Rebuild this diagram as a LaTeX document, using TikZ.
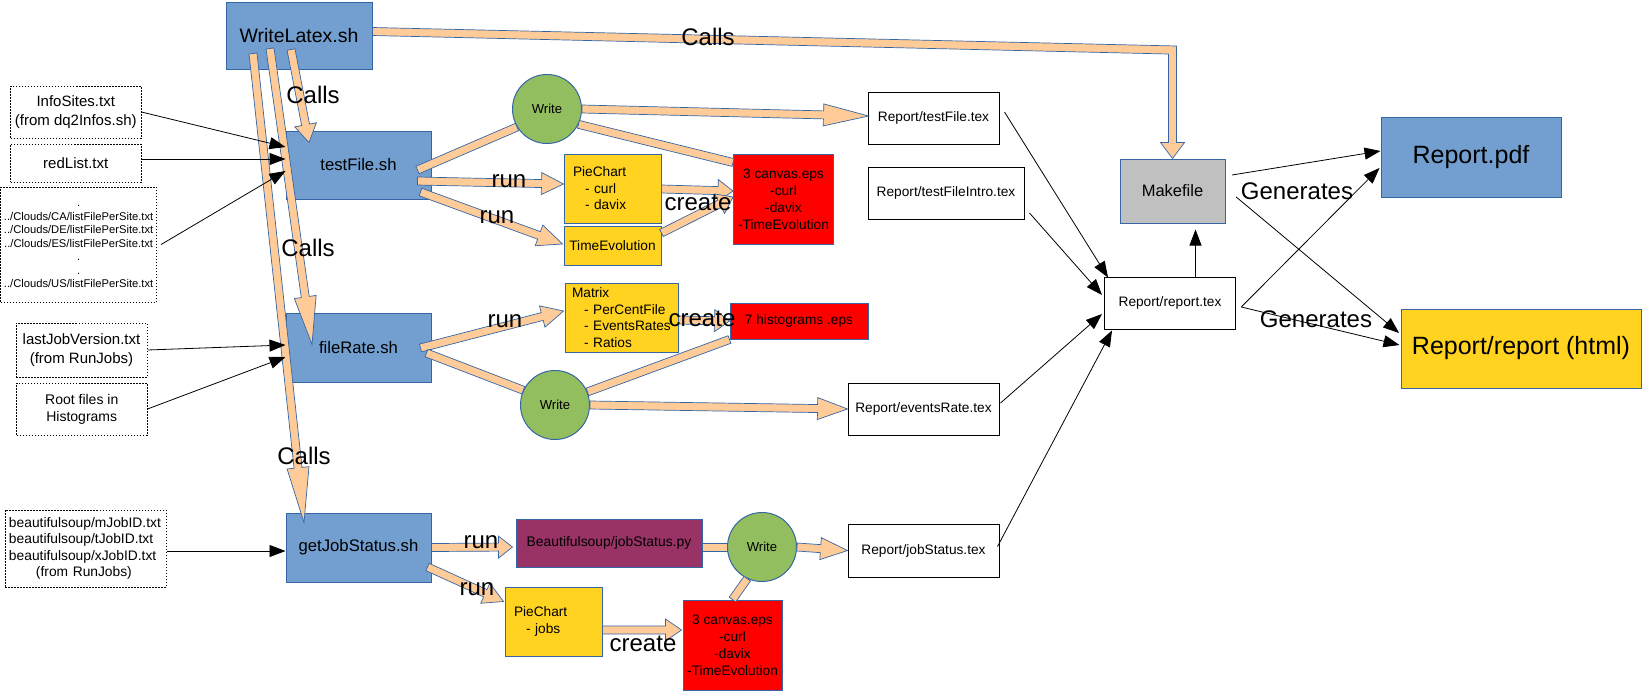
\documentclass[tikz,border=0pt]{standalone}
\usepackage{fontspec}
\setmainfont{Liberation Sans}
\usetikzlibrary{calc,arrows.meta,positioning}

\definecolor{shblue}{HTML}{729FCF}
\definecolor{shedge}{HTML}{3465A4}
\definecolor{callfill}{HTML}{FFCC99}
\definecolor{writegreen}{RGB}{147,190,95}
\definecolor{plotyellow}{HTML}{FFD320}
\definecolor{pyviolet}{HTML}{993366}
\definecolor{makegrey}{HTML}{C0C0C0}

\newcommand\blockarrow[3][20]{%
  \coordinate (fas) at #2; \coordinate (fae) at #3;
  \coordinate (fah) at ($(fae)!#1pt!(fas)$);
  \filldraw [blockarrow] ($(fas)!4pt!90:(fae)$) -- ($(fah)!4pt!90:(fae)$) -- ($(fah)!11pt!90:(fae)$) -- (fae)
    -- ($(fah)!11pt!-90:(fae)$) -- ($(fah)!4pt!-90:(fae)$) -- ($(fas)!4pt!-90:(fae)$) -- cycle;}
\newcommand\blockline[2]{%
  \coordinate (fas) at #1; \coordinate (fae) at #2;
  \filldraw [blockarrow] ($(fas)!4pt!90:(fae)$) -- ($(fae)!4pt!-90:(fas)$) -- ($(fae)!4pt!90:(fas)$) -- ($(fas)!4pt!-90:(fae)$) -- cycle;}

\begin{document}
\begin{tikzpicture}[x=1pt, y=-1pt,
  script/.style={rectangle, draw=shedge, fill=shblue, line width=1pt, inner sep=0pt, font=\fontsize{16.7}{20}\selectfont},
  infile/.style={rectangle, draw, line width=1pt, dash pattern=on 1.5pt off 1.5pt, inner sep=0pt, align=center, font=\fontsize{15}{18.5}\selectfont},
  texout/.style={rectangle, draw, line width=1pt, inner sep=0pt, font=\fontsize{13.7}{16.5}\selectfont},
  plotbox/.style={rectangle, draw=shedge, fill=plotyellow, line width=1pt, inner ysep=0pt, align=left, font=\fontsize{13.7}{16.5}\selectfont},
  epsbox/.style={rectangle, draw=shedge, fill=red, line width=1pt, inner sep=0pt, align=center, font=\fontsize{13.7}{17}\selectfont},
  writer/.style={circle, draw=shedge, fill=writegreen, line width=1pt, inner sep=0pt, minimum size=69pt, font=\fontsize{13.1}{16}\selectfont},
  blockarrow/.style={fill=callfill, draw=shedge, line width=0.7pt, line join=miter},
  feed/.style={draw, line width=0.8pt, -{Triangle[length=16pt, width=12pt]}},
  tag/.style={inner sep=0pt, font=\fontsize{24}{28}\selectfont}]
  \fill [white] (0,0) rectangle (1642,691);
  \useasboundingbox (0,0) rectangle (1642,691);

  \node (wl) [script, minimum width=146pt, minimum height=67pt, font=\fontsize{19.5}{23}\selectfont] at (299,35.5) {WriteLatex.sh};
  \node (info) [infile, minimum width=130.5pt, minimum height=52pt] at (75.75,112) {InfoSites.txt\\(from dq2Infos.sh)};
  \node (red) [infile, minimum width=130.5pt, minimum height=38pt] at (75.75,163) {redList.txt};
  \node (clouds) [infile, minimum width=156pt, minimum height=115pt, font=\fontsize{11.2}{13.5}\selectfont] at (78.6,244.5)
    {.\strut\\../Clouds/CA/listFilePerSite.txt\\../Clouds/DE/listFilePerSite.txt\\../Clouds/ES/listFilePerSite.txt\\.\\.\\../Clouds/US/listFilePerSite.txt\strut};
  \node (tf) [script, minimum width=145pt, minimum height=68pt] at (358.5,165) {testFile.sh};
  \node (lj) [infile, minimum width=131pt, minimum height=54pt] at (81.5,350) {lastJobVersion.txt\\(from RunJobs)};
  \node (root) [infile, minimum width=130.5pt, minimum height=52pt, font=\fontsize{14}{17}\selectfont] at (81.75,409) {Root files in\\Histograms};
  \node (fr) [script, minimum width=145pt, minimum height=69pt] at (358.5,347.5) {fileRate.sh};
  \node (bs) [infile, text width=153pt, inner xsep=4pt, minimum height=77pt, align=left, font=\fontsize{13.8}{16.5}\selectfont] at (85.5,548.5)
    {beautifulsoup/mJobID.txt\\beautifulsoup/tJobID.txt\\beautifulsoup/xJobID.txt\\\hspace*{27pt}(from RunJobs)};
  \node (gj) [script, minimum width=145pt, minimum height=69pt] at (358.5,547.5) {getJobStatus.sh};

  \node (w1) [writer] at (547,109) {Write};
  \node (pc) [plotbox, text width=79pt, inner xsep=9pt, minimum height=69pt] at (612.5,188.5) {PieChart\\\hspace*{12pt}- curl\\\hspace*{12pt}- davix};
  \node (te) [plotbox, inner sep=0pt, minimum width=97pt, minimum height=39pt] at (612.5,245.5) {TimeEvolution};
  \node (cv) [epsbox, minimum width=100pt, minimum height=90pt] at (783.5,199) {3 canvas.eps\\-curl\\-davix\\-TimeEvolution};
  \node (tt) [texout, minimum width=131pt, minimum height=52pt] at (933.5,118) {Report/testFile.tex};
  \node (ti) [texout, minimum width=156pt, minimum height=52pt] at (946,193) {Report/testFileIntro.tex};
  \node (mx) [plotbox, text width=99pt, inner xsep=7pt, minimum height=69pt] at (621.5,317.5)
    {Matrix\\\hspace*{12pt}- PerCentFile\\\hspace*{12pt}- EventsRates\\\hspace*{12pt}- Ratios};
  \node (hi) [epsbox, minimum width=138pt, minimum height=36pt] at (799,321) {7 histograms .eps};
  \node (w2) [writer] at (555,405) {Write};
  \node (er) [texout, minimum width=151pt, minimum height=52pt] at (923.5,409) {Report/eventsRate.tex};
  \node (py) [rectangle, draw=shedge, fill=pyviolet, line width=1pt, inner sep=0pt, minimum width=186pt, minimum height=48pt, font=\fontsize{13.9}{16.5}\selectfont] at (609,543) {Beautifulsoup/jobStatus.py};
  \node (w3) [writer] at (762,547) {Write};
  \node (js) [texout, minimum width=151pt, minimum height=53pt] at (923.5,550.5) {Report/jobStatus.tex};
  \node (pc2) [plotbox, text width=79pt, inner xsep=9pt, minimum height=69pt] at (553.5,621.5) {PieChart\\\hspace*{12pt}- jobs};
  \node (cv2) [epsbox, minimum width=99pt, minimum height=90pt] at (732.5,645) {3 canvas.eps\\-curl\\-davix\\-TimeEvolution};

  \node (mk) [rectangle, draw=shedge, fill=makegrey, line width=1pt, inner sep=0pt, minimum width=105pt, minimum height=64pt, font=\fontsize{16.5}{20}\selectfont] at (1172.5,191) {Makefile};
  \node (rt) [texout, minimum width=131pt, minimum height=52pt] at (1170,303) {Report/report.tex};
  \node (pdf) [script, minimum width=180pt, minimum height=80pt, font=\fontsize{25}{30}\selectfont] at (1471,157) {Report.pdf};
  \node (html) [plotbox, inner sep=0pt, minimum width=240pt, minimum height=79pt, font=\fontsize{25}{30}\selectfont] at (1521,348.5) {Report/report (html)};

  \blockarrow[18]{($(wl.south)+(-8,-20)$)}{($(tf.north)+(-49.5,12)$)}
  \blockarrow[48]{($(wl.south)+(-29,-21)$)}{($(fr.north)+(-46.5,32)$)}
  \blockarrow[55]{($(wl.south)+(-46,-16)$)}{($(gj.north)+(-54.5,10)$)}
  \coordinate (bend) at (mk.north |- 0,50);
  \filldraw [blockarrow] ([yshift=8pt]wl.east) -- ($(bend)+(4,-4)$) -- ($(mk.north)+(4,-16)$) -- ($(mk.north)+(12,-16)$) -- (mk.north)
    -- ($(mk.north)+(-12,-16)$) -- ($(mk.north)+(-4,-16)$) -- ($(bend)+(-4,4)$) -- (wl.east) -- cycle;

  \blockline{($(tf.east)+(-14,5)$)}{(w1.211)}
  \blockarrow[45]{(w1.east)}{($(tt.west)+(1,-2)$)}
  \blockline{(w1.-26)}{($(cv.north west)+(0,9)$)}
  \blockarrow[22]{($(tf.east)+(-14,16)$)}{($(pc.west)+(0,-4.5)$)}
  \blockarrow[25]{($(tf.east)+(-11,27)$)}{($(te.west)+(-1,-1.5)$)}
  \blockarrow[15]{($(pc.east)+(0,0.5)$)}{($(cv.west)+(0,-8)$)}
  \blockarrow[15]{($(te.east)+(0,-12.5)$)}{($(cv.west)+(0,-2)$)}

  \blockarrow[22]{($(fr.east)+(-11,0.5)$)}{($(mx.west)+(-1,-6.5)$)}
  \blockarrow[15]{($(mx.east)+(0,2.5)$)}{(hi.west)}
  \blockline{($(fr.east)+(-5,5.5)$)}{(w2.155)}
  \blockline{(w2.22)}{(hi.south west)}
  \blockarrow[30]{(w2.east)}{(er.west)}

  \blockarrow[14]{(gj.east)}{($(py.west)+(-3,4)$)}
  \blockline{($(py.east)+(0,4)$)}{(w3.west)}
  \blockarrow[27]{(w3.east)}{(js.west)}
  \blockarrow[20]{($(gj.east)+(-4,19.5)$)}{($(pc2.north west)+(-1,15)$)}
  \blockarrow[16]{($(pc2.east)+(0,8.5)$)}{($(cv2.west)+(-1,-15)$)}
  \blockline{(cv2.north)}{(w3.245)}

  \draw [feed] (info.east) -- ($(tf.west)+(0,-18)$);
  \draw [feed] ($(red.east)+(0,-4)$) -- ($(tf.west)+(0,-6)$);
  \draw [feed] ($(clouds.east)+(4,0)$) -- ($(tf.west)+(0,6)$);
  \draw [feed] (lj.east) -- ($(fr.west)+(0,-2.5)$);
  \draw [feed] (root.east) -- ($(fr.west)+(0,9.5)$);
  \draw [feed] ($(bs.east)+(0,2.5)$) -- ($(gj.west)+(0,3.5)$);
  \draw [feed] ($(tt.east)+(5,-6)$) -- ($(rt.north west)+(4,1)$);
  \draw [feed] ($(ti.east)+(5,20)$) -- ($(rt.west)+(-2,-8)$);
  \draw [feed] ($(er.east)+(1,-6)$) -- ($(rt.west)+(-2,11)$);
  \draw [feed] ($(js.east)+(-2,-4)$) -- ($(rt.south west)+(8,1)$);
  \draw [feed] ($(rt.north)+(25.5,0)$) -- ($(mk.south)+(23,6)$);
  \draw [feed] ($(mk.east)+(6.5,-16)$) -- ($(pdf.west)+(0,-6)$);
  \draw [feed] ($(mk.east)+(10.7,6)$) -- ($(html.west)+(-1.4,-15.5)$);
  \draw [feed] ($(rt.east)+(5.3,4)$) -- ($(pdf.west)+(-1,11)$);
  \draw [feed] ($(rt.east)+(5.3,4)$) -- ($(html.west)+(-1,-3.5)$);

  \node (calls0) [tag] at (708,37) {Calls};
  \node (calls1) [tag] at (313,95) {Calls};
  \node (calls2) [tag] at (308,248) {Calls};
  \node (calls3) [tag] at (304,456) {Calls};
  \node (run1) [tag] at (509,181) {run};
  \node (run2) [tag] at (497,217) {run};
  \node (run3) [tag] at (505,321) {run};
  \node (run4) [tag] at (481,542) {run};
  \node (run5) [tag] at (477,589) {run};
  \node (create1) [tag] at (698,203) {create};
  \node (create2) [tag] at (702,319) {create};
  \node (create3) [tag] at (643,644) {create};
  \node (gen1) [tag] at (1297,191) {Generates};
  \node (gen2) [tag] at (1316,319) {Generates};
\end{tikzpicture}
\end{document}
